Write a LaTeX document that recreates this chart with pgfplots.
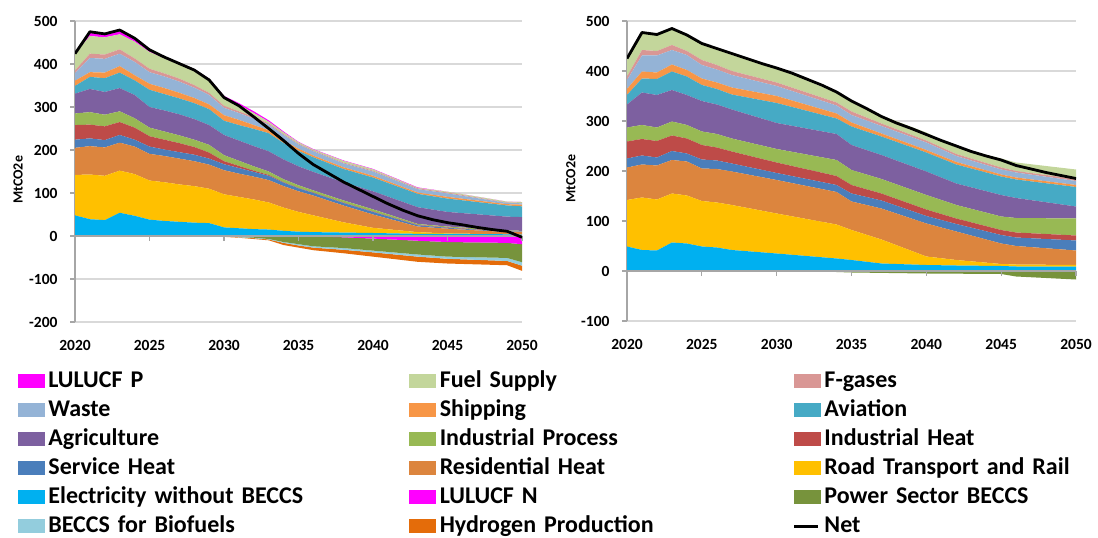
\documentclass[border=0pt]{standalone}
\usepackage{fontspec}
\setmainfont{Carlito}
\usepackage{pgfplots}
\usepackage{pgfplotstable}
\pgfplotsset{compat=1.18}

\definecolor{cE}{HTML}{00B0F0}
\definecolor{cR}{HTML}{FFC000}
\definecolor{cRes}{HTML}{DC853E}
\definecolor{cSv}{HTML}{4A7EBB}
\definecolor{cIH}{HTML}{BE4B48}
\definecolor{cIP}{HTML}{98B954}
\definecolor{cAg}{HTML}{7D60A0}
\definecolor{cAv}{HTML}{46AAC5}
\definecolor{cSh}{HTML}{F79646}
\definecolor{cW}{HTML}{94B3D6}
\definecolor{cF}{HTML}{D99795}
\definecolor{cFS}{HTML}{C3D69B}
\definecolor{cLP}{HTML}{FF00FF}
\definecolor{cPB}{HTML}{77933C}
\definecolor{cBB}{HTML}{93CDDD}
\definecolor{cH}{HTML}{E46C0A}
\definecolor{gridc}{HTML}{D9D9D9}
\definecolor{axc}{HTML}{A6A6A6}

\newcommand\tickfont{\fontsize{15.5}{18}\selectfont\bfseries}
\newcommand\labfont{\fontsize{14}{16}\selectfont\bfseries}
\newcommand\legfont{\fontsize{24}{28}\selectfont\bfseries}

% legend entry: coloured box + text
\newcommand\legbox[2]{%
  \addlegendimage{legend image code/.code={%
    \fill[#1] (0pt,-6.5pt) rectangle (26pt,6.5pt); \path (30pt,0pt);}}%
  \addlegendentry{#2}}

% left chart, layer thickness (positive stack)
\pgfplotstableread{
year E R Res Sv IH IP Ag Av Sh W F FS LP
2020 48 94 63 19 34 27 46 18 12 18 6 39 0
2021 39 104 66 18 32 29 54 28 11 33 10 41 7
2022 37 103 66 17 32 27 53 32 13 32 10 40 6
2023 54 98 65 18 30 25 54 36 15 29 10 35 7
2024 47 97 64 16 28 22 54 34 12 31 8 39 6
2025 38 91 62 17 24 20 48 40 14 27 8 39 5
2026 35 90 61 15 23 19 49 38 14 27 7 35 5
2027 33 87 60 15 21 18 49 37 13 26 7 32 5
2028 31 85 58 15 18 17 48 37 12 24 6 33 4
2029 30 80 56 14 14 18 46 37 11 22 5 29 4
2030 20 77 56 14 7 14 47 33 13 17 5 19 4
2031 18 73 54 13 5 12 47 36 12 16 4 15 4
2032 16 69 53 11 3 10 47 40 9 15 4 9 4
2033 15 63 52 10 2 8 47 42 7 13 3 4 3
2034 12 54 50 8 1 7 46 38 6 13 2 4 2
2035 10 46 48 7 1 6 44 36 5 10 2 3 1
2036 9 39 46 6 1 5 43 34 4 10 2 2 1
2038 8 24 39 6 1 5 42 31 4 9 2 4 1
2040 7 12 31 6 1 5 42 32 4 10 2 3 1
2043 5 4 13 3 1 2 39 31 3 8 2 1 1
2045 5 1 11 2 1 2 34 31 4 8 2 2 0
2049 4 0 5 1 1 2 32 26 3 3 1 2 0
2050 3 0 6 1 1 1 32 25 4 3 1 2 0
}\lpos

% left chart, negative stack
\pgfplotstableread{
year LN PB BB H
2020 0 0 0 0
2029 0 0 0 0
2030 0 -1 0 -1
2031 0 -2 -1 -1
2032 0 -4 -1 -2
2033 0 -7 -1 -2
2034 0 -14 -2 -5
2035 0 -19 -3 -5
2036 -1 -23 -3 -6
2038 -3 -25 -4 -8
2040 -6 -28 -4 -10
2043 -11 -32 -5 -12
2045 -14 -34 -5 -11
2049 -16 -35 -7 -10
2050 -19 -42 -8 -12
}\lneg

\pgfplotstableread{
year net
2020 424
2021 475
2022 470
2023 479
2024 460
2025 433
2026 416
2027 401
2028 386
2029 363
2030 322
2031 303
2032 277
2033 250
2034 222
2035 192
2036 166
2037 146
2038 126
2039 109
2040 92
2041 75
2042 60
2043 47
2044 38
2045 31
2046 26
2047 20
2048 15
2049 11
2050 -3
}\lnet

% right chart
\pgfplotstableread{
year E R Res Sv IH IP Ag Av Sh W F FS
2020 49 93 65 18 34 28 46 19 12 18 7 36
2021 42 105 66 18 33 28 65 28 14 32 11 35
2022 41 102 68 16 33 27 65 32 13 34 9 33
2023 57 98 67 18 31 28 63 37 14 29 10 33
2024 55 96 68 16 30 27 60 37 13 30 8 32
2025 49 91 65 18 29 27 61 32 13 27 10 33
2026 47 90 67 17 26 27 59 31 13 26 9 33
2027 42 90 67 16 24 26 58 30 14 25 8 32
2030 35 80 67 14 21 27 52 40 14 20 7 30
2034 25 68 65 14 18 32 52 31 10 16 6 19
2035 22 60 57 16 17 30 50 37 8 15 7 21
2037 15 48 62 16 14 29 48 37 6 15 5 16
2040 12 17 66 15 13 29 47 38 5 15 4 16
2042 11 11 57 15 11 27 43 38 5 12 4 13
2045 10 4 41 17 10 27 43 37 4 10 4 18
2046 9 4 37 17 10 29 40 37 4 10 3 17
2050 9 3 29 20 10 34 24 39 4 8 4 19
}\rpos

\pgfplotstableread{
year PB
2020 0
2030 0
2031 -1
2034 -2
2035 -3
2040 -5
2045 -6
2046 -11
2050 -17
}\rneg

\pgfplotstableread{
year net
2020 425
2021 477
2022 473
2023 485
2024 472
2025 455
2026 445
2027 435
2028 425
2029 415
2030 406
2031 396
2032 384
2033 372
2034 358
2035 340
2036 325
2037 309
2038 296
2039 285
2040 273
2041 261
2042 250
2043 239
2044 230
2045 222
2046 211
2047 204
2048 197
2049 191
2050 185
}\rnet

\pgfplotsset{
  chart/.style={scale only axis, anchor=south west, xmin=2020, xmax=2050},
  base/.style={
    axis x line*=bottom, axis y line*=left,
    ymajorgrids, grid style={draw=gridc, line width=1.1pt},
    x axis line style={draw=gridc, line width=1.1pt},
    y axis line style={draw=axc, line width=1.1pt},
    xtick={2020,2025,...,2050},
    xticklabels={2020,2025,2030,2035,2040,2045,2050},
    xtick style={draw=none},
    ytick style={draw=axc, line width=1.1pt},
    tick align=outside, major tick length=5pt,
    tick label style={font=\tickfont},
    xticklabel style={yshift=-10pt},
    yticklabel style={xshift=-9pt},
    ylabel={MtCO2e},
    ylabel style={font=\labfont, anchor=center},
    stack plots=y,
  },
  zeroline/.style={
    axis x line=middle, axis y line=none,
    x axis line style={draw=axc, line width=1.1pt, -},
    xtick={2025,2030,...,2050}, xticklabels={},
    xtick style={draw=axc, line width=1.1pt, yshift=-2.5pt},
    tick align=center, major tick length=5pt, ytick=\empty,
  },
}

\begin{document}
\begin{tikzpicture}
\path[use as bounding box] (0pt,0pt) rectangle (1098pt,-538pt);

% ---------- left chart ----------
\begin{axis}[chart, base, at={(75pt,-322pt)}, width=447pt, height=301pt,
  ymin=-200, ymax=500, ytick={-200,-100,...,500},
  yticklabels={-200,-100,0,100,200,300,400,500},
  ylabel style={at={(axis description cs:-0.1275,0.472)}}]
\addplot[fill=cLP, draw=none] table[x=year,y=LN] {\lneg} \closedcycle;
\addplot[fill=cPB, draw=none] table[x=year,y=PB] {\lneg} \closedcycle;
\addplot[fill=cBB, draw=none] table[x=year,y=BB] {\lneg} \closedcycle;
\addplot[fill=cH, draw=none] table[x=year,y=H] {\lneg} \closedcycle;
\end{axis}

\begin{axis}[chart, hide axis, stack plots=y, at={(75pt,-322pt)},
  width=447pt, height=301pt, ymin=-200, ymax=500]
\addplot[fill=cE, draw=none] table[x=year,y=E] {\lpos} \closedcycle;
\addplot[fill=cR, draw=none] table[x=year,y=R] {\lpos} \closedcycle;
\addplot[fill=cRes, draw=none] table[x=year,y=Res] {\lpos} \closedcycle;
\addplot[fill=cSv, draw=none] table[x=year,y=Sv] {\lpos} \closedcycle;
\addplot[fill=cIH, draw=none] table[x=year,y=IH] {\lpos} \closedcycle;
\addplot[fill=cIP, draw=none] table[x=year,y=IP] {\lpos} \closedcycle;
\addplot[fill=cAg, draw=none] table[x=year,y=Ag] {\lpos} \closedcycle;
\addplot[fill=cAv, draw=none] table[x=year,y=Av] {\lpos} \closedcycle;
\addplot[fill=cSh, draw=none] table[x=year,y=Sh] {\lpos} \closedcycle;
\addplot[fill=cW, draw=none] table[x=year,y=W] {\lpos} \closedcycle;
\addplot[fill=cF, draw=none] table[x=year,y=F] {\lpos} \closedcycle;
\addplot[fill=cFS, draw=none] table[x=year,y=FS] {\lpos} \closedcycle;
\addplot[fill=cLP, draw=none] table[x=year,y=LP] {\lpos} \closedcycle;
\end{axis}

\begin{axis}[chart, zeroline, at={(75pt,-322pt)}, width=447pt, height=301pt,
  ymin=-200, ymax=500]
\addplot[black, line width=2.8pt, line join=round] table[x=year,y=net] {\lnet};
\end{axis}

% ---------- right chart ----------
\begin{axis}[chart, base, at={(627pt,-321pt)}, width=449pt, height=300pt,
  ymin=-100, ymax=500, ytick={-100,0,...,500},
  yticklabels={-100,0,100,200,300,400,500},
  ylabel style={at={(axis description cs:-0.125,0.475)}}]
\addplot[fill=cPB, draw=none] table[x=year,y=PB] {\rneg} \closedcycle;
\end{axis}

\begin{axis}[chart, hide axis, stack plots=y, at={(627pt,-321pt)},
  width=449pt, height=300pt, ymin=-100, ymax=500]
\addplot[fill=cE, draw=none] table[x=year,y=E] {\rpos} \closedcycle;
\addplot[fill=cR, draw=none] table[x=year,y=R] {\rpos} \closedcycle;
\addplot[fill=cRes, draw=none] table[x=year,y=Res] {\rpos} \closedcycle;
\addplot[fill=cSv, draw=none] table[x=year,y=Sv] {\rpos} \closedcycle;
\addplot[fill=cIH, draw=none] table[x=year,y=IH] {\rpos} \closedcycle;
\addplot[fill=cIP, draw=none] table[x=year,y=IP] {\rpos} \closedcycle;
\addplot[fill=cAg, draw=none] table[x=year,y=Ag] {\rpos} \closedcycle;
\addplot[fill=cAv, draw=none] table[x=year,y=Av] {\rpos} \closedcycle;
\addplot[fill=cSh, draw=none] table[x=year,y=Sh] {\rpos} \closedcycle;
\addplot[fill=cW, draw=none] table[x=year,y=W] {\rpos} \closedcycle;
\addplot[fill=cF, draw=none] table[x=year,y=F] {\rpos} \closedcycle;
\addplot[fill=cFS, draw=none] table[x=year,y=FS] {\rpos} \closedcycle;
\end{axis}

\begin{axis}[chart, zeroline, at={(627pt,-321pt)}, width=449pt, height=300pt,
  ymin=-100, ymax=500]
\addplot[black, line width=2.8pt, line join=round] table[x=year,y=net] {\rnet};
\end{axis}

% ---------- shared legend ----------
\begin{axis}[hide axis, scale only axis, width=10pt, height=10pt,
  at={(18pt,-369pt)}, anchor=north west,
  xmin=0, xmax=1, ymin=0, ymax=1,
  legend columns=3, legend cell align=left,
  legend style={draw=none, fill=none, inner sep=0pt, outer sep=0pt,
    at={(0,1)}, anchor=north west, font=\legfont,
    row sep=5pt, column sep=0pt,
    nodes={inner sep=0pt, text height=18pt, text depth=6pt},
    /tikz/column 2/.style={text width=361pt},
    /tikz/column 4/.style={text width=353pt},
    /tikz/column 6/.style={text width=250pt}}]
\legbox{cLP}{LULUCF P}
\legbox{cFS}{Fuel Supply}
\legbox{cF}{F-gases}
\legbox{cW}{Waste}
\legbox{cSh}{Shipping}
\legbox{cAv}{Aviation}
\legbox{cAg}{Agriculture}
\legbox{cIP}{Industrial Process}
\legbox{cIH}{Industrial Heat}
\legbox{cSv}{Service Heat}
\legbox{cRes}{Residential Heat}
\legbox{cR}{Road Transport and Rail}
\legbox{cE}{Electricity without BECCS}
\legbox{cLP}{LULUCF N}
\legbox{cPB}{Power Sector BECCS}
\legbox{cBB}{BECCS for Biofuels}
\legbox{cH}{Hydrogen Production}
\addlegendimage{legend image code/.code={%
  \draw[black, line width=3pt] (0pt,0pt) -- (24pt,0pt); \path (30pt,0pt);}}
\addlegendentry{Net}
\end{axis}
\end{tikzpicture}
\end{document}
